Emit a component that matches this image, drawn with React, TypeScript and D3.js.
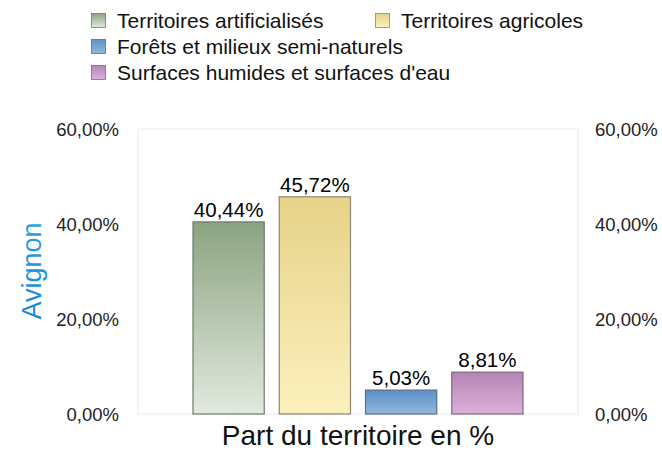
import React from 'react';
import * as d3 from 'd3';

const categories = [
  'Territoires artificialisés',
  'Territoires agricoles',
  'Forêts et milieux semi-naturels',
  "Surfaces humides et surfaces d'eau",
];
const values = [40.44, 45.72, 5.03, 8.81];
const yTicks = [0, 20, 40, 60];

// top / bottom of each vertical gradient, plus border
const topColors = ['#8ba381', '#e6d388', '#5b90c8', '#b585b5'];
const bottomColors = ['#e2e9de', '#fcf0bd', '#92b7dc', '#dcb0da'];
const strokeColors = ['#6f7a6b', '#8c8670', '#5b6f86', '#7c6a7c'];

const fmt = (v: number, d: number) => v.toFixed(d).replace('.', ',') + '%';

const App: React.FC = () => {
  const width = 662;
  const height = 450;
  const plot = { left: 138, right: 578, top: 129, bottom: 414 };

  const y = d3.scaleLinear().domain([0, 60]).range([plot.bottom, plot.top]);
  const x = d3
    .scaleBand<string>()
    .domain(categories)
    .range([193, 523])
    .paddingInner(0.174)
    .paddingOuter(0);
  const bw = x.bandwidth();

  // legend slots: x of the square, baseline of the text
  const legend = [
    { i: 0, x: 91, y: 28 },
    { i: 1, x: 375, y: 28 },
    { i: 2, x: 91, y: 54 },
    { i: 3, x: 91, y: 80 },
  ];

  return (
    <svg
      width={width}
      height={height}
      style={{ position: 'absolute', left: 0, top: 0, fontFamily: '"Liberation Sans", Arial, sans-serif' }}
    >
      <defs>
        {categories.map((c, i) => (
          <linearGradient key={c} id={`g${i}`} x1="0" y1="0" x2="0" y2="1">
            <stop offset="0%" stopColor={topColors[i]} />
            <stop offset="100%" stopColor={bottomColors[i]} />
          </linearGradient>
        ))}
        <linearGradient id="titleGrad" x1="0" y1="0" x2="1" y2="0">
          <stop offset="0%" stopColor="#1a86d6" />
          <stop offset="100%" stopColor="#2aa0e0" />
        </linearGradient>
      </defs>
      <rect width={width} height={height} fill="#fff" />

      {/* legend */}
      {legend.map((l) => (
        <g key={l.i}>
          <rect
            x={l.x + 0.5}
            y={l.y - 14.5}
            width={14}
            height={14}
            fill={`url(#g${l.i})`}
            stroke={strokeColors[l.i]}
            strokeWidth={0.8}
          />
          <text x={l.x + 26} y={l.y} fontSize={21} fill="#111">
            {categories[l.i]}
          </text>
        </g>
      ))}

      {/* plot frame */}
      <rect
        x={plot.left}
        y={plot.top}
        width={plot.right - plot.left}
        height={plot.bottom - plot.top}
        fill="none"
        stroke="#ececec"
        strokeWidth={1}
      />

      {/* axes labels */}
      {yTicks.map((t) => (
        <g key={t}>
          <text x={119} y={y(t) + 7} fontSize={18.5} textAnchor="end" fill="#222">
            {fmt(t, 2)}
          </text>
          <text x={595} y={y(t) + 7} fontSize={18.5} textAnchor="start" fill="#222">
            {fmt(t, 2)}
          </text>
        </g>
      ))}

      {/* bars */}
      {categories.map((c, i) => {
        const bx = x(c) as number;
        return (
          <g key={c}>
            <rect
              x={bx}
              y={y(values[i])}
              width={bw}
              height={y(0) - y(values[i])}
              fill={`url(#g${i})`}
              stroke={strokeColors[i]}
              strokeWidth={1.2}
            />
            <text x={bx + bw / 2} y={y(values[i]) - 5} fontSize={20.5} textAnchor="middle" fill="#000">
              {fmt(values[i], 2)}
            </text>
          </g>
        );
      })}

      <text
        transform={`translate(41, 271) rotate(-90)`}
        fontSize={27}
        textAnchor="middle"
        fill="url(#titleGrad)"
      >
        Avignon
      </text>
      <text x={358} y={445} fontSize={28} textAnchor="middle" fill="#111">
        Part du territoire en %
      </text>
    </svg>
  );
};

export default App;
